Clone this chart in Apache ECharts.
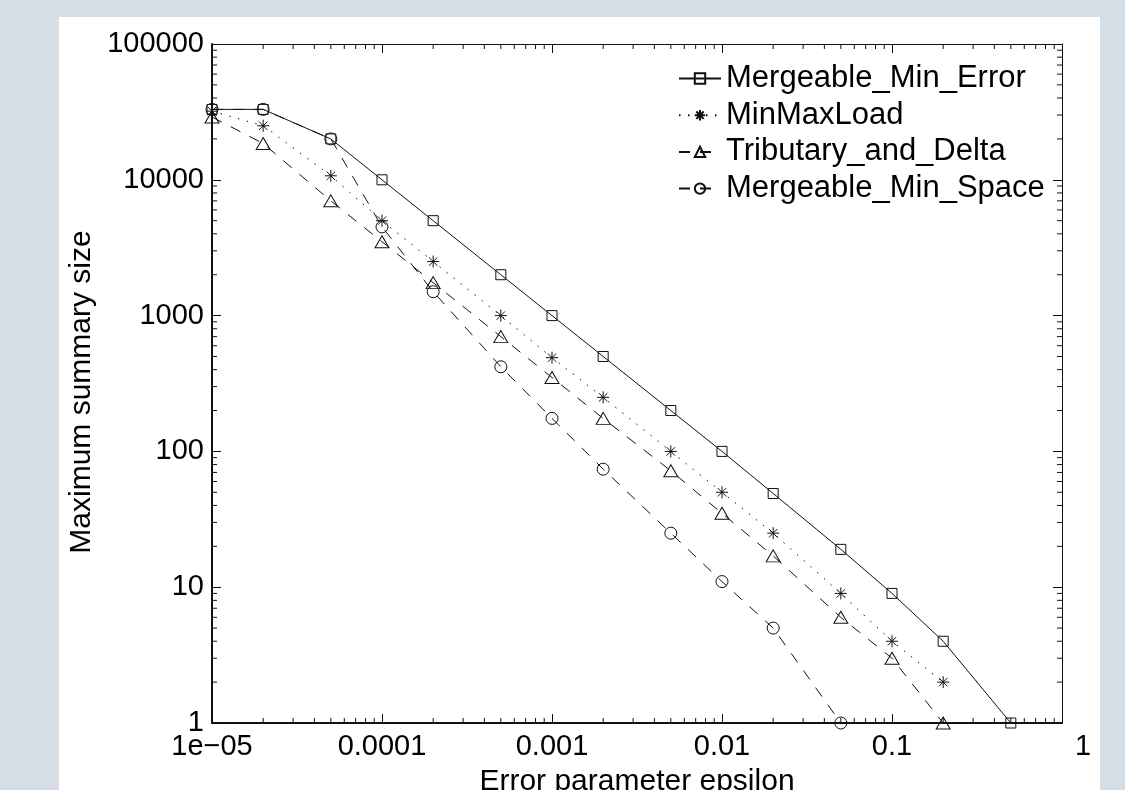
<!DOCTYPE html>
<html>
<head>
<meta charset="utf-8">
<script src="https://cdn.jsdelivr.net/npm/echarts@6/dist/echarts.min.js"></script>
<style>
html,body{margin:0;padding:0;background:#d5dde5;}
#chart{width:1125px;height:790px;}
</style>
</head>
<body>
<div id="chart"></div>
<script>
// ---- data ----
const epsilon = [1e-5, 2e-5, 5e-5, 1e-4, 2e-4, 5e-4, 1e-3, 2e-3, 5e-3, 1e-2, 2e-2, 5e-2, 0.1, 0.2, 0.5];
const mergeableMinError = [33000, 33000, 20000, 10000, 5000, 2000, 1000, 500, 200, 100, 49, 19, 9, 4, 1];
const minMaxLoad = [32000, 25000, 10700, 5000, 2500, 1000, 490, 250, 100, 50, 25, 9, 4, 2];
const tributaryAndDelta = [29000, 18500, 7000, 3500, 1750, 700, 350, 175, 72, 35, 17, 6, 3, 1];
const mergeableMinSpace = [33000, 33000, 20000, 4500, 1500, 420, 175, 74, 25, 11, 5, 1];
const seriesNames = ['Mergeable_Min_Error', 'MinMaxLoad', 'Tributary_and_Delta', 'Mergeable_Min_Space'];
const xTickLabels = ['1e\u221205', '0.0001', '0.001', '0.01', '0.1', '1'];
const yTickLabels = ['1', '10', '100', '1000', '10000', '100000'];
const xAxisTitle = 'Error parameter epsilon';
const yAxisTitle = 'Maximum summary size';

const X_MIN = 1e-5, X_MAX = 1, Y_MIN = 1, Y_MAX = 1e5;

// minor log ticks (2..9 in each decade)
function minorTicks(lo, hi) {
  const out = [];
  for (let v = lo; v < hi * 0.99; v *= 10) {
    for (let m = 2; m <= 9; m++) out.push(m * v);
  }
  return out;
}
const xMinor = minorTicks(X_MIN, X_MAX);
const yMinor = minorTicks(Y_MIN, Y_MAX);

const FONT = '"Liberation Sans", Arial, Helvetica, sans-serif';
const FS = 29;
const FS_TITLE = 30;
const FS_LEGEND = 31;
const INK = '#111';

const starPath = 'path://M6 0L6 12M0 6L12 6M1.8 1.8L10.2 10.2M1.8 10.2L10.2 1.8';

function pairs(vals) { return vals.map((v, i) => [epsilon[i], v]); }

function lineSeries(name, vals, symbol, size, dash) {
  return {
    name: name,
    type: 'line',
    data: pairs(vals),
    symbol: symbol,
    symbolSize: size,
    clip: false,
    showAllSymbol: true,
    lineStyle: { color: INK, width: 1, type: dash },
    itemStyle: { color: 'rgba(0,0,0,0)', borderColor: INK, borderWidth: 1 },
    emphasis: { disabled: true },
    z: 3
  };
}

const chart = echarts.init(document.getElementById('chart'));
const tickStyle = { color: INK, width: 1 };

const option = {
  backgroundColor: '#d5dde5',
  animation: false,
  graphic: [{
    type: 'rect', z: -10, silent: true,
    shape: { x: 59, y: 17, width: 1041, height: 800 },
    style: { fill: '#ffffff' }
  }],
  grid: { left: 212, top: 44, width: 850, height: 679, containLabel: false, outerBoundsMode: 'none' },
  legend: {
    data: seriesNames,
    orient: 'vertical',
    left: 678,
    top: 63,
    padding: 0,
    itemWidth: 42,
    itemHeight: 13,
    itemGap: 5.7,
    textStyle: { fontFamily: FONT, fontSize: FS_LEGEND, color: '#000', lineHeight: 30 },
    selectedMode: false
  },
  xAxis: [{
    type: 'log', logBase: 10, min: X_MIN, max: X_MAX, position: 'bottom',
    name: xAxisTitle, nameLocation: 'middle', nameGap: 44,
    nameTextStyle: { fontFamily: FONT, fontSize: FS_TITLE, color: '#000' },
    axisLine: { show: true, lineStyle: { color: INK, width: 2 } },
    axisTick: { show: true, inside: true, length: 9, lineStyle: tickStyle },
    splitLine: { show: false },
    axisLabel: {
      show: true, margin: 9, color: '#000', fontFamily: FONT, fontSize: FS,
      showMinLabel: true, showMaxLabel: true,
      formatter: function (v) {
        const i = Math.round(Math.log10(v)) + 5;
        const t = xTickLabels[i];
        return i === xTickLabels.length - 1 ? '{last|' + t + '}' : t;
      },
      rich: { last: { fontFamily: FONT, fontSize: FS, color: '#000', padding: [0, 0, 0, 42] } }
    }
  }, {
    type: 'log', logBase: 10, min: X_MIN, max: X_MAX, position: 'top',
    axisLine: { show: true, lineStyle: { color: INK, width: 1 } },
    axisTick: { show: true, inside: true, length: 9, lineStyle: tickStyle },
    axisLabel: { show: false }, splitLine: { show: false }
  }],
  yAxis: [{
    type: 'log', logBase: 10, min: Y_MIN, max: Y_MAX, position: 'left',
    name: yAxisTitle, nameLocation: 'middle', nameGap: 110, nameRotate: 90,
    nameTextStyle: { fontFamily: FONT, fontSize: FS_TITLE, color: '#000', padding: [0, 17, 0, 0] },
    axisLine: { show: true, lineStyle: { color: INK, width: 2 } },
    axisTick: { show: true, inside: true, length: 9, lineStyle: tickStyle },
    splitLine: { show: false },
    axisLabel: {
      show: true, margin: 8, color: '#000', fontFamily: FONT, fontSize: FS,
      showMinLabel: true, showMaxLabel: true,
      formatter: function (v) { return yTickLabels[Math.round(Math.log10(v))]; }
    }
  }, {
    type: 'log', logBase: 10, min: Y_MIN, max: Y_MAX, position: 'right',
    axisLine: { show: true, lineStyle: { color: INK, width: 1 } },
    axisTick: { show: true, inside: true, length: 9, lineStyle: tickStyle },
    axisLabel: { show: false }, splitLine: { show: false }
  }],
  series: [
    lineSeries(seriesNames[0], mergeableMinError, 'rect', 10, 'solid'),
    lineSeries(seriesNames[1], minMaxLoad, starPath, 12, [1.5, 7.5]),
    lineSeries(seriesNames[2], tributaryAndDelta, 'triangle', [14, 12], [11, 10]),
    lineSeries(seriesNames[3], mergeableMinSpace, 'circle', 12, [11, 10]),
    {
      type: 'custom', silent: true, clip: false, z: 2,
      data: xMinor.map(v => [v, Y_MIN]),
      renderItem: function (params, api) {
        const v = api.value(0);
        const b = api.coord([v, Y_MIN]);
        const t = api.coord([v, Y_MAX]);
        return { type: 'group', children: [
          { type: 'line', shape: { x1: b[0], y1: b[1], x2: b[0], y2: b[1] - 5 }, style: { stroke: INK, lineWidth: 1 } },
          { type: 'line', shape: { x1: t[0], y1: t[1], x2: t[0], y2: t[1] + 5 }, style: { stroke: INK, lineWidth: 1 } }
        ] };
      }
    },
    {
      type: 'custom', silent: true, clip: false, z: 2,
      data: yMinor.map(v => [X_MIN, v]),
      renderItem: function (params, api) {
        const v = api.value(1);
        const l = api.coord([X_MIN, v]);
        const r = api.coord([X_MAX, v]);
        return { type: 'group', children: [
          { type: 'line', shape: { x1: l[0], y1: l[1], x2: l[0] + 5, y2: l[1] }, style: { stroke: INK, lineWidth: 1 } },
          { type: 'line', shape: { x1: r[0], y1: r[1], x2: r[0] - 5, y2: r[1] }, style: { stroke: INK, lineWidth: 1 } }
        ] };
      }
    }
  ]
};
chart.setOption(option);
</script>
</body>
</html>
